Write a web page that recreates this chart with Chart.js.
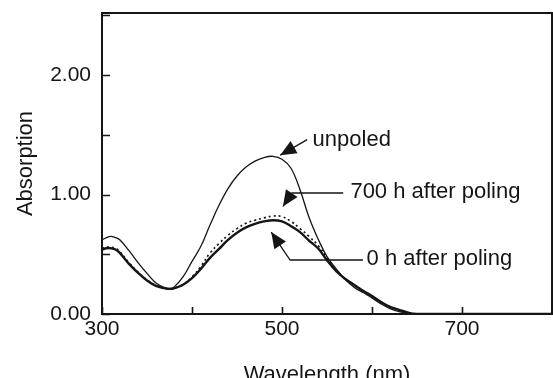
<!DOCTYPE html>
<html>
<head>
<meta charset="utf-8">
<script src="https://cdn.jsdelivr.net/npm/chart.js@4.4.1/dist/chart.umd.min.js"></script>
<style>
  html, body { margin: 0; padding: 0; background: #fff; }
  #wrap { width: 553px; height: 378px; }
</style>
</head>
<body>
<div id="wrap"><canvas id="spectra"></canvas></div>
<script>
/* ---- data ---- */
const wavelengths = [300, 305, 310, 315, 320, 330, 340, 350, 360, 370, 375, 380, 390,
  400, 410, 420, 430, 440, 450, 460, 470, 480, 490, 500, 510, 520, 530, 540, 550,
  560, 570, 580, 590, 600, 610, 620, 630, 640, 650, 660, 700, 750, 800];

const unpoled = [0.62, 0.64, 0.65, 0.64, 0.62, 0.53, 0.43, 0.34, 0.26, 0.22, 0.215, 0.225, 0.31,
  0.44, 0.57, 0.745, 0.91, 1.05, 1.155, 1.23, 1.28, 1.31, 1.32, 1.295, 1.22, 1.04, 0.81, 0.63, 0.48,
  0.38, 0.29, 0.225, 0.18, 0.135, 0.085, 0.045, 0.02, 0.005, 0.0, 0.0, 0.0, 0.0, 0.0];

const after700h = [0.55, 0.56, 0.56, 0.55, 0.52, 0.43, 0.35, 0.285, 0.24, 0.215, 0.21, 0.215, 0.245,
  0.31, 0.40, 0.51, 0.59, 0.66, 0.715, 0.76, 0.785, 0.805, 0.82, 0.815, 0.775, 0.715, 0.65, 0.575, 0.47,
  0.365, 0.295, 0.245, 0.195, 0.15, 0.10, 0.06, 0.035, 0.012, 0.0, 0.0, 0.0, 0.0, 0.0];

const after0h = [0.54, 0.55, 0.55, 0.54, 0.51, 0.42, 0.345, 0.28, 0.235, 0.215, 0.21, 0.215, 0.245,
  0.30, 0.38, 0.47, 0.545, 0.62, 0.68, 0.725, 0.755, 0.775, 0.785, 0.775, 0.735, 0.685, 0.615, 0.55, 0.45,
  0.36, 0.295, 0.245, 0.195, 0.15, 0.10, 0.06, 0.035, 0.012, 0.0, 0.0, 0.0, 0.0, 0.0];

const xTickValues = [300, 500, 700];
const yTickValues = [0, 1, 2];
const xMinorTicks = [300, 400, 500, 600, 700, 800];
const yMinorTicks = [0, 0.5, 1, 1.5, 2, 2.5];

// annotation labels, text anchors (data units) and arrow paths (tip first)
const noteLabels = ["unpoled", "700 h after poling", "0 h after poling"];
const noteX = [534, 576, 594];
const noteY = [1.46, 1.02, 0.46];
const noteArrows = [
  [[498, 1.33], [528, 1.46]],
  [[501, 0.90], [511, 1.013], [568, 1.013]],
  [[488, 0.686], [509, 0.452], [590, 0.452]]
];

const INK = "#151515";
const FONT = "'Liberation Sans', Arial, Helvetica, sans-serif";

/* ---- helpers ---- */
function toPoints(values) {
  return wavelengths.map((w, i) => ({ x: w, y: values[i] }));
}

function drawArrowHead(ctx, tip, from) {
  const ang = Math.atan2(tip.y - from.y, tip.x - from.x);
  const len = 16, half = 7;
  ctx.beginPath();
  ctx.moveTo(tip.x, tip.y);
  ctx.lineTo(tip.x - len * Math.cos(ang) + half * Math.sin(ang),
             tip.y - len * Math.sin(ang) - half * Math.cos(ang));
  ctx.lineTo(tip.x - len * Math.cos(ang) - half * Math.sin(ang),
             tip.y - len * Math.sin(ang) + half * Math.cos(ang));
  ctx.closePath();
  ctx.fill();
}

// keep the plot box exactly where the layout padding puts it
function noEdgePadding(s) {
  s.paddingTop = 0;
  s.paddingBottom = 0;
  s.paddingLeft = 0;
  s.paddingRight = 0;
}

/* ---- frame, inward ticks, annotations ---- */
const framePlugin = {
  id: "frame",
  afterDatasetsDraw(chart) {
    const { ctx, chartArea: a, scales: { x, y } } = chart;
    ctx.save();
    ctx.strokeStyle = INK;
    ctx.fillStyle = INK;

    // box
    ctx.lineWidth = 2;
    ctx.strokeRect(a.left, a.top, a.right - a.left, a.bottom - a.top);

    // inward ticks
    ctx.lineWidth = 1.6;
    ctx.beginPath();
    xMinorTicks.forEach(v => {
      const px = Math.round(x.getPixelForValue(v)) + 0.5;
      ctx.moveTo(px, a.bottom);
      ctx.lineTo(px, a.bottom - 7);
    });
    yMinorTicks.forEach(v => {
      const py = Math.round(y.getPixelForValue(v)) + 0.5;
      ctx.moveTo(a.left, py);
      ctx.lineTo(a.left + 8, py);
    });
    ctx.stroke();

    // arrows
    ctx.lineWidth = 1.3;
    noteArrows.forEach(path => {
      const pts = path.map(p => ({ x: x.getPixelForValue(p[0]), y: y.getPixelForValue(p[1]) }));
      ctx.beginPath();
      ctx.moveTo(pts[0].x, pts[0].y);
      for (let i = 1; i < pts.length; i++) ctx.lineTo(pts[i].x, pts[i].y);
      ctx.stroke();
      drawArrowHead(ctx, pts[0], pts[1]);
    });

    // labels
    ctx.font = "22px " + FONT;
    ctx.textAlign = "left";
    ctx.textBaseline = "middle";
    noteLabels.forEach((t, i) => {
      ctx.fillText(t, x.getPixelForValue(noteX[i]), y.getPixelForValue(noteY[i]));
    });
    ctx.restore();
  }
};

/* ---- chart ---- */
const ctx = document.getElementById("spectra").getContext("2d");

new Chart(ctx, {
  type: "line",
  data: {
    datasets: [
      {
        label: "unpoled",
        data: toPoints(unpoled),
        borderColor: INK,
        borderWidth: 1.3
      },
      {
        label: "700 h after poling",
        data: toPoints(after700h),
        borderColor: INK,
        borderWidth: 1.7,
        borderDash: [2, 3]
      },
      {
        label: "0 h after poling",
        data: toPoints(after0h),
        borderColor: INK,
        borderWidth: 2.4
      }
    ]
  },
  options: {
    responsive: true,
    maintainAspectRatio: false,
    animation: false,
    events: [],
    elements: {
      point: { radius: 0 },
      line: { tension: 0.4 }
    },
    layout: { padding: { top: 13, right: 1, left: 0, bottom: 0 } },
    scales: {
      x: {
        type: "linear",
        min: 300,
        max: 800,
        afterFit: s => { s.height = 64; noEdgePadding(s); },
        afterBuildTicks: s => { s.ticks = xTickValues.map(v => ({ value: v })); },
        grid: { display: false, drawTicks: false },
        border: { display: false },
        ticks: {
          color: INK,
          padding: 3,
          maxRotation: 0,
          font: { family: FONT, size: 21 }
        },
        title: {
          display: true,
          text: "Wavelength (nm)",
          color: INK,
          font: { family: FONT, size: 22, lineHeight: 1 },
          padding: { top: 0, bottom: -8 }
        }
      },
      y: {
        min: 0,
        max: 2.52,
        afterFit: s => { s.width = 102; noEdgePadding(s); },
        afterBuildTicks: s => { s.ticks = yTickValues.map(v => ({ value: v })); },
        grid: { display: false, drawTicks: false },
        border: { display: false },
        ticks: {
          color: INK,
          padding: 11,
          font: { family: FONT, size: 21 },
          callback: v => v.toFixed(2)
        },
        title: {
          display: true,
          text: "Absorption",
          color: INK,
          font: { family: FONT, size: 22 },
          padding: { top: 13, bottom: 0 }
        }
      }
    },
    plugins: {
      legend: { display: false },
      tooltip: { enabled: false }
    }
  },
  plugins: [framePlugin]
});
</script>
</body>
</html>
